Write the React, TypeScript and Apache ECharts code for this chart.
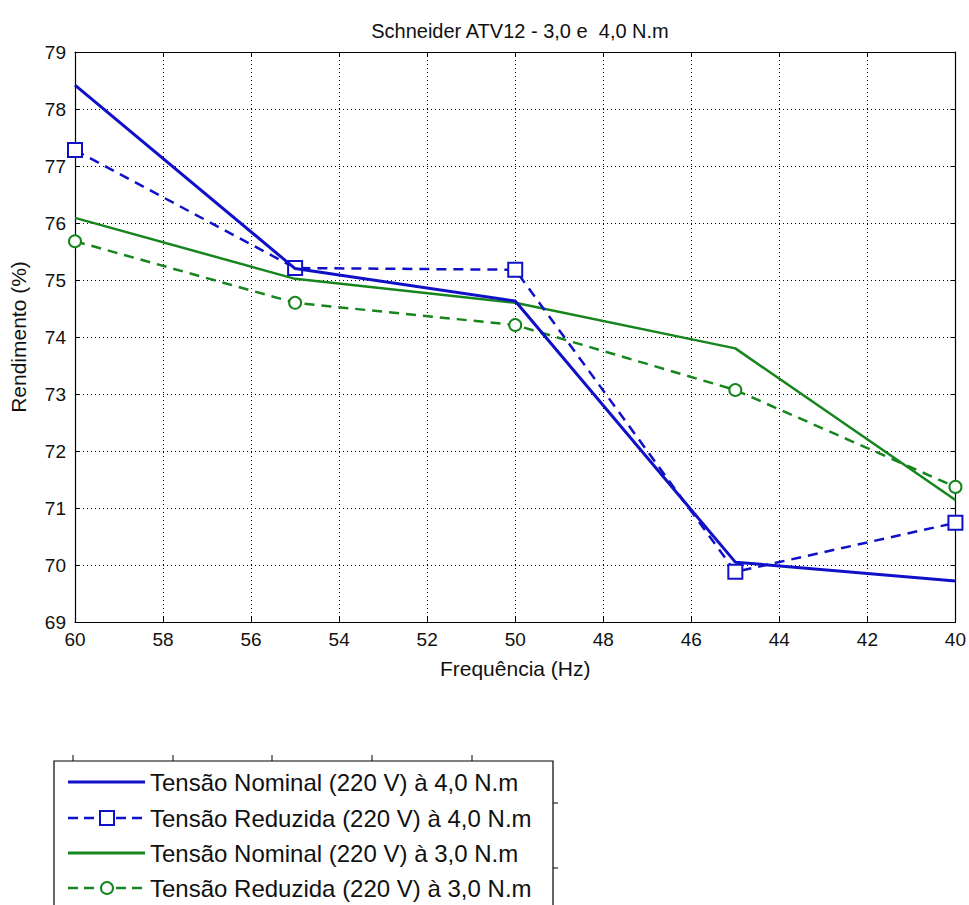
import React, { useEffect, useRef } from "react";
import * as echarts from "echarts";

const frequencies = [60, 55, 50, 45, 40];
const nominal4 = [78.42, 75.2, 74.63, 70.05, 69.72];
const reduzida4 = [77.28, 75.21, 75.18, 69.88, 70.74];
const nominal3 = [76.09, 75.02, 74.6, 73.8, 71.14];
const reduzida3 = [75.68, 74.6, 74.21, 73.07, 71.37];
const seriesNames = [
  "Tensão Nominal (220 V) à 4,0 N.m",
  "Tensão Reduzida (220 V) à 4,0 N.m",
  "Tensão Nominal (220 V) à 3,0 N.m",
  "Tensão Reduzida (220 V) à 3,0 N.m",
];
const titleText = "Schneider ATV12 - 3,0 e  4,0 N.m";
const xLabel = "Frequência (Hz)";
const yLabel = "Rendimento (%)";

const BLUE = "#1010c8";
const GREEN = "#17851d";
const FONT = "Liberation Sans, Arial, sans-serif";

function pairs(vals: number[]) {
  return frequencies.map((f, i) => [f, vals[i]]);
}

const legendSpec = [
  { color: BLUE, dashed: false, marker: "none" },
  { color: BLUE, dashed: true, marker: "rect" },
  { color: GREEN, dashed: false, marker: "none" },
  { color: GREEN, dashed: true, marker: "circle" },
];

function legendGraphics() {
  const els: any[] = [];
  const rowY = [782, 818, 853, 888];
  legendSpec.forEach((s, i) => {
    const y = rowY[i];
    els.push({
      type: "line",
      shape: { x1: 68, y1: y, x2: 145, y2: y },
      style: {
        stroke: s.color,
        lineWidth: s.dashed ? 2.5 : 3,
        lineDash: s.dashed ? [10, 6] : null,
      },
    });
    if (s.marker === "rect") {
      els.push({
        type: "rect",
        shape: { x: 100, y: y - 7, width: 14, height: 14 },
        style: { fill: "#fff", stroke: s.color, lineWidth: 2 },
      });
    } else if (s.marker === "circle") {
      els.push({
        type: "circle",
        shape: { cx: 107, cy: y, r: 6 },
        style: { fill: "#fff", stroke: s.color, lineWidth: 2 },
      });
    }
    els.push({
      type: "text",
      x: 150,
      y,
      style: {
        text: seriesNames[i],
        fontSize: 24,
        fontFamily: FONT,
        fill: "#111",
        textVerticalAlign: "middle",
        verticalAlign: "middle",
      },
    });
  });
  return els;
}

export default function App() {
  const ref = useRef<HTMLDivElement>(null);
  useEffect(() => {
    if (!ref.current) return;
    const chart = echarts.init(ref.current, undefined, { renderer: "svg" });
    const gridLine = { show: true, lineStyle: { color: "#000", type: [1, 3] as any, width: 1 } };
    const tick = { show: true, inside: true, length: 5, lineStyle: { color: "#000" } };
    const axisLine = { show: true, lineStyle: { color: "#000", width: 1.2 } };
    const labelStyle = { color: "#111", fontSize: 19, fontFamily: FONT };
    chart.setOption({
      animation: false,
      backgroundColor: "#fff",
      title: {
        text: titleText,
        left: 515,
        top: 16,
        textAlign: "center",
        textStyle: { fontSize: 20, fontWeight: "normal", color: "#111", fontFamily: FONT },
      },
      grid: { left: 74, right: 12, top: 52, bottom: 283, containLabel: false },
      xAxis: [
        {
          type: "value",
          min: 40,
          max: 60,
          interval: 2,
          inverse: true,
          position: "bottom",
          axisLine,
          axisTick: tick,
          axisLabel: { ...labelStyle, margin: 8 },
          splitLine: gridLine,
          name: xLabel,
          nameLocation: "middle",
          nameGap: 36,
          nameTextStyle: { ...labelStyle, fontSize: 21 },
        },
        {
          type: "value",
          min: 40,
          max: 60,
          interval: 2,
          inverse: true,
          position: "top",
          axisLine,
          axisTick: tick,
          axisLabel: { show: false },
          splitLine: { show: false },
        },
      ],
      yAxis: [
        {
          type: "value",
          min: 69,
          max: 79,
          interval: 1,
          position: "left",
          axisLine,
          axisTick: tick,
          axisLabel: { ...labelStyle, margin: 9 },
          splitLine: gridLine,
          name: yLabel,
          nameLocation: "middle",
          nameGap: 46,
          nameTextStyle: { ...labelStyle, fontSize: 21 },
        },
        {
          type: "value",
          min: 69,
          max: 79,
          interval: 1,
          position: "right",
          axisLine,
          axisTick: tick,
          axisLabel: { show: false },
          splitLine: { show: false },
        },
      ],
      graphic: [
        {
          type: "rect",
          shape: { x: 54, y: 761, width: 499, height: 160 },
          style: { fill: "#fff", stroke: "#000", lineWidth: 1.2 },
          z: -1,
        },
        ...[73, 173, 272, 372, 472].map((x) => ({
          type: "line",
          shape: { x1: x, y1: 755, x2: x, y2: 761 },
          style: { stroke: "#000", lineWidth: 1 },
        })),
        ...[803, 868].map((y) => ({
          type: "line",
          shape: { x1: 553, y1: y, x2: 558, y2: y },
          style: { stroke: "#000", lineWidth: 1 },
        })),
        ...legendGraphics(),
      ],
      series: [
        {
          name: seriesNames[0],
          type: "line",
          data: pairs(nominal4),
          showSymbol: false,
          symbol: "none",
          lineStyle: { color: BLUE, width: 3 },
          itemStyle: { color: BLUE },
          z: 4,
        },
        {
          name: seriesNames[1],
          type: "line",
          data: pairs(reduzida4),
          symbol: "emptyRect",
          symbolSize: 14,
          lineStyle: { color: BLUE, width: 2.5, type: [10, 7] },
          itemStyle: { color: BLUE, borderWidth: 2 },
          z: 3,
        },
        {
          name: seriesNames[2],
          type: "line",
          data: pairs(nominal3),
          showSymbol: false,
          symbol: "none",
          lineStyle: { color: GREEN, width: 2.5 },
          itemStyle: { color: GREEN },
          z: 2,
        },
        {
          name: seriesNames[3],
          type: "line",
          data: pairs(reduzida3),
          symbol: "emptyCircle",
          symbolSize: 12,
          lineStyle: { color: GREEN, width: 2.5, type: [10, 7] },
          itemStyle: { color: GREEN, borderWidth: 2 },
          z: 1,
        },
      ],
    });
    return () => chart.dispose();
  }, []);
  return (
    <div
      ref={ref}
      style={{ position: "fixed", left: 0, top: 0, width: 969, height: 905, background: "#fff" }}
    />
  );
}
